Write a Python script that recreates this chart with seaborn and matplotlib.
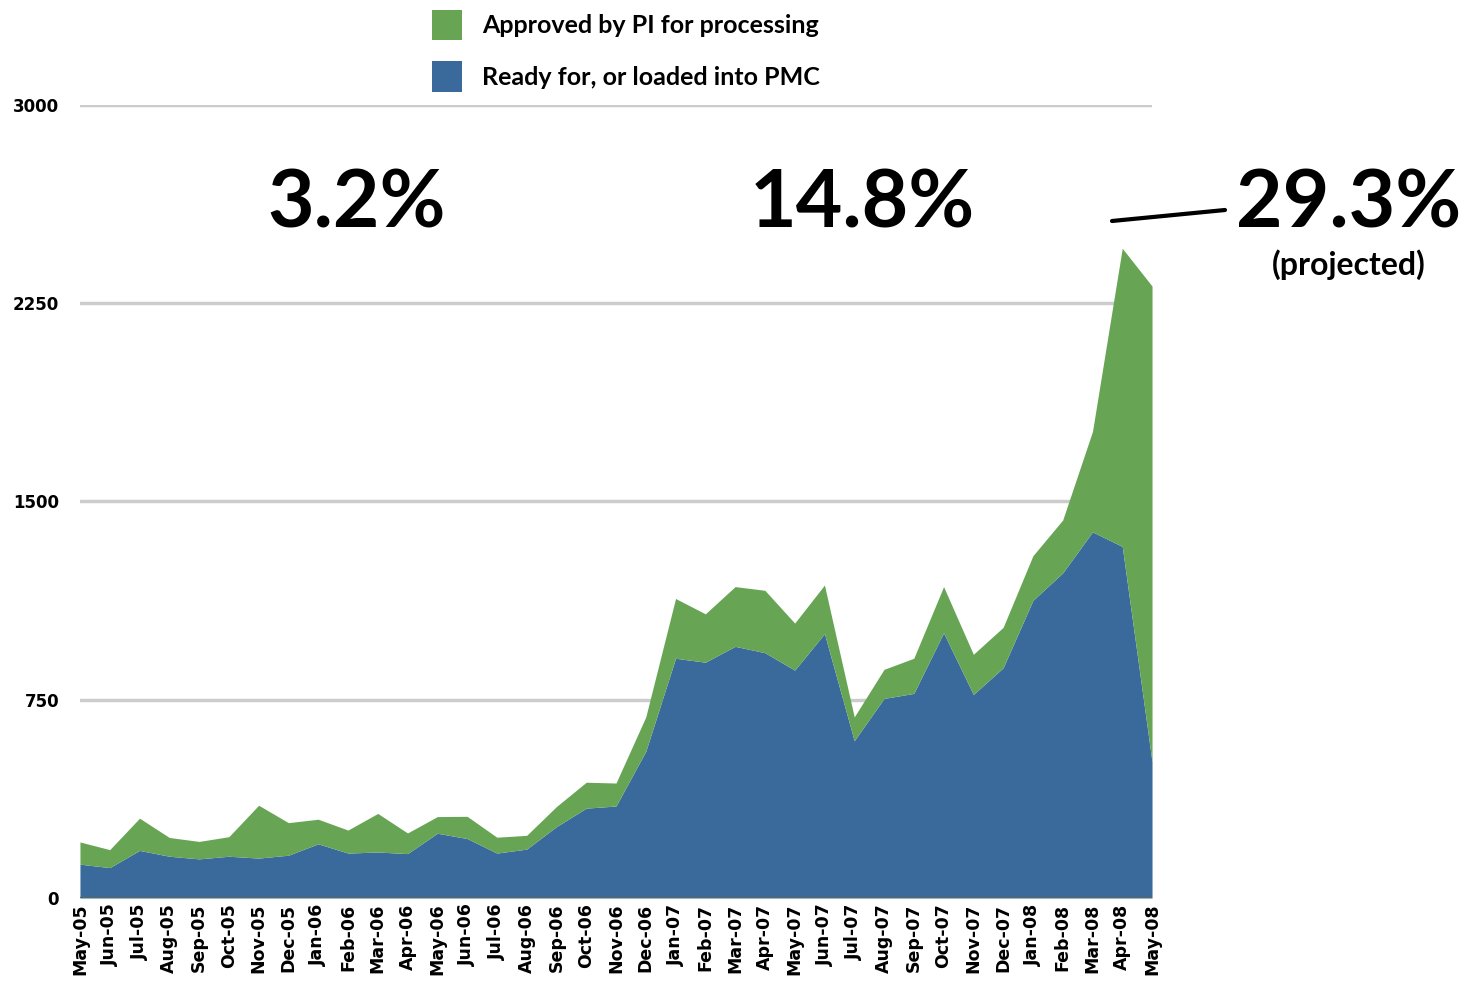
import matplotlib
matplotlib.use("Agg")
import matplotlib.pyplot as plt
from matplotlib.patches import Patch
from matplotlib.lines import Line2D
import numpy as np
import seaborn as sns

# Data -------------------------------------------------------------------------
months = ["May-05", "Jun-05", "Jul-05", "Aug-05", "Sep-05", "Oct-05", "Nov-05", "Dec-05",
          "Jan-06", "Feb-06", "Mar-06", "Apr-06", "May-06", "Jun-06", "Jul-06", "Aug-06",
          "Sep-06", "Oct-06", "Nov-06", "Dec-06", "Jan-07", "Feb-07", "Mar-07", "Apr-07",
          "May-07", "Jun-07", "Jul-07", "Aug-07", "Sep-07", "Oct-07", "Nov-07", "Dec-07",
          "Jan-08", "Feb-08", "Mar-08", "Apr-08", "May-08"]

ready_for_pmc = [128, 115, 180, 158, 148, 158, 151, 162, 205, 170, 174, 168, 245, 225,
                 170, 185, 270, 340, 348, 555, 907, 892, 952, 928, 862, 1000, 595, 755,
                 774, 1003, 770, 871, 1126, 1230, 1385, 1330, 515]

approved_by_pi = [84, 68, 122, 71, 66, 74, 200, 123, 93, 87, 146, 78, 63, 84, 60, 52,
                  76, 98, 87, 130, 226, 183, 226, 236, 178, 184, 90, 110, 133, 175, 152,
                  153, 169, 200, 380, 1128, 1800]

y_ticks = [0, 750, 1500, 2250, 3000]
y_tick_labels = ["0", "750", "1500", "2250", "3000"]

series_labels = ["Approved by PI for processing", "Ready for, or loaded into PMC"]
green = "#67a555"
blue = "#3a6a9b"

# Figure -------------------------------------------------------------------------
sns.set_style("white")
fig = plt.figure(figsize=(14.67, 9.81), dpi=100)
ax = fig.add_axes([0.0545, 0.0846, 0.7308, 0.8084])

x = np.arange(len(months))
for yt in y_ticks[1:]:
    ax.axhline(yt, color="#cccccc", lw=2.5, zorder=0)

ax.stackplot(x, ready_for_pmc, approved_by_pi, colors=[blue, green], linewidth=0, zorder=2)
ax.axhline(0, color="#4e6a6a", lw=2.5, zorder=3)

ax.set_xlim(0, len(months) - 1)
ax.set_ylim(0, 3000)
ax.set_yticks(y_ticks)
ax.set_yticklabels(y_tick_labels, fontsize=12, fontweight="bold", color="black")
ax.set_xticks(x)
ax.set_xticklabels(months, rotation=90, fontsize=12.5, fontweight="bold", color="black")
ax.tick_params(axis="y", length=0, pad=15)
ax.tick_params(axis="x", length=0, pad=4)
sns.despine(ax=ax, left=True, bottom=True)

# Legend -------------------------------------------------------------------------
handles = [Patch(facecolor=green, edgecolor="none"), Patch(facecolor=blue, edgecolor="none")]
fig.legend(handles, series_labels, loc="upper left", bbox_to_anchor=(0.279, 1.013),
           frameon=False, prop={"family": "Lato", "weight": "bold", "size": 18},
           handlelength=1.2, handleheight=1.5, handletextpad=0.8, labelspacing=0.85,
           labelcolor="black")

# Percent annotations ------------------------------------------------------------
big = {"family": "Lato", "weight": "bold", "size": 58, "color": "black"}
fig.text(357 / 1467, 1 - 205 / 981, "3.2%", ha="center", va="center", **big)
fig.text(862 / 1467, 1 - 205 / 981, "14.8%", ha="center", va="center", **big)
fig.text(1349 / 1467, 1 - 205 / 981, "29.3%", ha="center", va="center", **big)
fig.text(1349 / 1467, 1 - 265 / 981, "(projected)", ha="center", va="center",
         family="Lato", weight="bold", size=23, color="black")
fig.add_artist(Line2D([1112 / 1467, 1225 / 1467], [1 - 221 / 981, 1 - 210 / 981],
                      color="black", lw=3, transform=fig.transFigure))

fig.savefig("out.png", dpi=100)
